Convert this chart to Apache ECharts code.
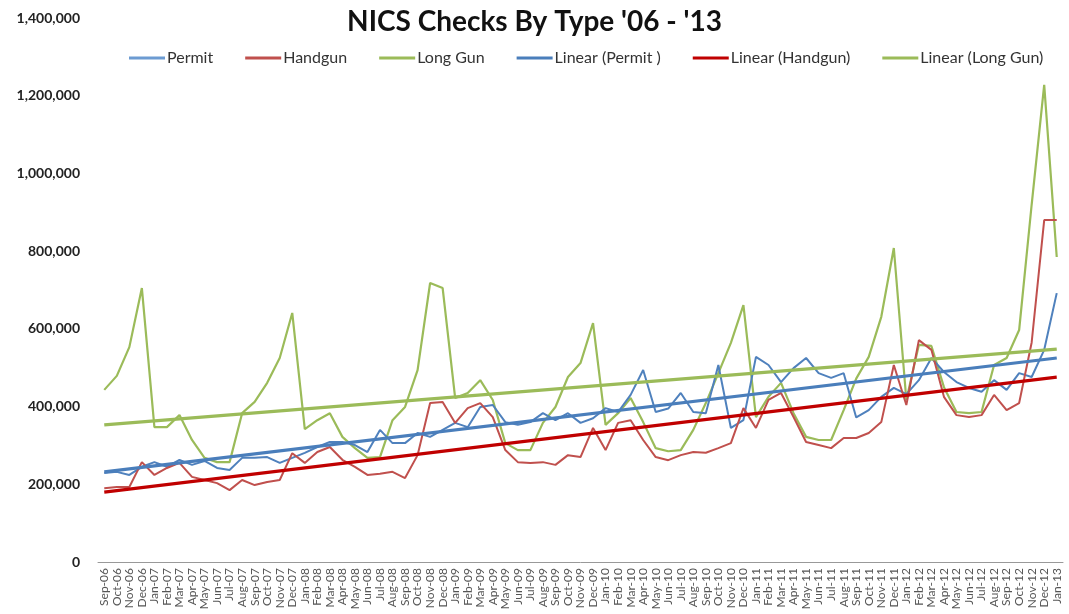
<!DOCTYPE html>
<html>
<head>
<meta charset="utf-8">
<script src="https://cdn.jsdelivr.net/npm/echarts@6/dist/echarts.min.js"></script>
<style>
  html, body { margin: 0; padding: 0; background: #fff; }
  #charts { width: 1069px; height: 614px; }
</style>
</head>
<body>
<div id="charts"></div>
<script>
var months = ['Sep-06','Oct-06','Nov-06','Dec-06',
  'Jan-07','Feb-07','Mar-07','Apr-07','May-07','Jun-07','Jul-07','Aug-07','Sep-07','Oct-07','Nov-07','Dec-07',
  'Jan-08','Feb-08','Mar-08','Apr-08','May-08','Jun-08','Jul-08','Aug-08','Sep-08','Oct-08','Nov-08','Dec-08',
  'Jan-09','Feb-09','Mar-09','Apr-09','May-09','Jun-09','Jul-09','Aug-09','Sep-09','Oct-09','Nov-09','Dec-09',
  'Jan-10','Feb-10','Mar-10','Apr-10','May-10','Jun-10','Jul-10','Aug-10','Sep-10','Oct-10','Nov-10','Dec-10',
  'Jan-11','Feb-11','Mar-11','Apr-11','May-11','Jun-11','Jul-11','Aug-11','Sep-11','Oct-11','Nov-11','Dec-11',
  'Jan-12','Feb-12','Mar-12','Apr-12','May-12','Jun-12','Jul-12','Aug-12','Sep-12','Oct-12','Nov-12','Dec-12',
  'Jan-13'];

var permit = [229000,232000,224000,245000,
  257000,245000,263000,250000,260000,242000,237000,268000,268000,270000,255000,268000,
  281000,296000,309000,309000,301000,283000,340000,306000,306000,332000,322000,340000,
  358000,347000,399000,404000,360000,353000,360000,383000,365000,383000,358000,370000,
  396000,386000,430000,494000,386000,395000,435000,386000,383000,507000,345000,365000,
  528000,507000,463000,499000,525000,486000,474000,486000,372000,391000,425000,448000,
  432000,468000,525000,489000,463000,448000,438000,468000,443000,486000,476000,546000,
  692000];

var handgun = [190000,193000,193000,257000,
  224000,242000,255000,219000,211000,203000,185000,211000,198000,206000,211000,280000,
  255000,283000,296000,263000,245000,224000,227000,232000,216000,275000,409000,412000,
  358000,396000,409000,373000,288000,257000,255000,257000,250000,275000,270000,345000,
  288000,358000,365000,314000,270000,262000,275000,283000,281000,293000,306000,396000,
  345000,417000,435000,373000,309000,301000,293000,319000,319000,332000,360000,507000,
  404000,571000,546000,425000,378000,373000,378000,430000,391000,409000,565000,880000,
  880000];

var longGun = [443000,479000,553000,705000,
  347000,347000,378000,314000,268000,257000,257000,383000,412000,461000,525000,641000,
  342000,365000,383000,322000,293000,268000,270000,365000,399000,494000,718000,705000,
  422000,435000,468000,417000,306000,288000,288000,358000,399000,476000,512000,615000,
  353000,383000,422000,360000,293000,285000,288000,340000,409000,486000,564000,661000,
  373000,425000,461000,383000,322000,314000,314000,391000,472000,528000,631000,808000,
  417000,559000,556000,450000,386000,383000,386000,507000,525000,597000,920000,1228000,
  785000];

// trend line end values (first month, last month)
var trendPermit = [232000, 525000];
var trendHandgun = [180000, 476000];
var trendLongGun = [353000, 548000];

var yTicks = [0, 200000, 400000, 600000, 800000, 1000000, 1200000, 1400000];

function ends(pair) {
  var arr = months.map(function () { return null; });
  arr[0] = pair[0];
  arr[months.length - 1] = pair[1];
  return arr;
}

var fontFamily = 'Lato, "Open Sans", sans-serif';

var option = {
  animation: false,
  backgroundColor: '#fff',
  textStyle: { fontFamily: fontFamily },
  title: {
    text: "NICS Checks By Type '06 - '13",
    left: 'center',
    top: 3,
    textStyle: { fontSize: 28, fontWeight: 'bold', color: '#111', fontFamily: fontFamily }
  },
  legend: {
    top: 45,
    left: 124,
    icon: 'rect',
    itemWidth: 36,
    itemHeight: 3,
    itemGap: 32,
    textStyle: { fontSize: 16, color: '#333', fontFamily: fontFamily, padding: [0, 0, 0, -3] },
    data: ['Permit', 'Handgun', 'Long Gun', 'Linear (Permit )', 'Linear (Handgun)', 'Linear (Long Gun)']
  },
  grid: { left: 98, right: 6, top: 18, bottom: 52 },
  xAxis: {
    type: 'category',
    data: months,
    boundaryGap: true,
    axisLine: { lineStyle: { color: '#999', width: 1 } },
    axisTick: { show: false },
    axisLabel: { rotate: 90, interval: 0, fontSize: 12, color: '#555', margin: 6, fontFamily: fontFamily }
  },
  yAxis: {
    type: 'value',
    min: 0,
    max: yTicks[yTicks.length - 1],
    interval: yTicks[1] - yTicks[0],
    axisLine: { show: false },
    axisTick: { show: false },
    splitLine: { show: false },
    axisLabel: {
      margin: 18,
      fontSize: 14,
      fontWeight: 'bold',
      color: '#222',
      fontFamily: fontFamily,
      formatter: function (v) { return v.toLocaleString('en-US'); }
    }
  },
  series: [
    { name: 'Permit', type: 'line', data: permit, symbol: 'none',
      lineStyle: { color: '#4F81BD', width: 2 }, itemStyle: { color: '#6C9BD2' }, z: 3 },
    { name: 'Handgun', type: 'line', data: handgun, symbol: 'none',
      lineStyle: { color: '#C0504D', width: 2 }, itemStyle: { color: '#C0504D' }, z: 3 },
    { name: 'Long Gun', type: 'line', data: longGun, symbol: 'none',
      lineStyle: { color: '#9BBB59', width: 2.2 }, itemStyle: { color: '#9BBB59' }, z: 2 },
    { name: 'Linear (Permit )', type: 'line', data: ends(trendPermit), connectNulls: true, symbol: 'none',
      lineStyle: { color: '#4A7EBB', width: 3.2 }, itemStyle: { color: '#4A7EBB' }, z: 4 },
    { name: 'Linear (Handgun)', type: 'line', data: ends(trendHandgun), connectNulls: true, symbol: 'none',
      lineStyle: { color: '#C00000', width: 3.2 }, itemStyle: { color: '#C00000' }, z: 4 },
    { name: 'Linear (Long Gun)', type: 'line', data: ends(trendLongGun), connectNulls: true, symbol: 'none',
      lineStyle: { color: '#9BBB59', width: 3.2 }, itemStyle: { color: '#9BBB59' }, z: 4 }
  ]
};

var myChart = echarts.init(document.getElementById('charts'), null, { renderer: 'canvas' });
myChart.setOption(option);
</script>
</body>
</html>
